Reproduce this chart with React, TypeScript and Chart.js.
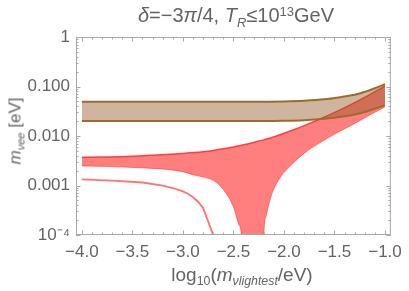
import React, { useEffect, useRef } from 'react';
import { Chart, registerables } from 'chart.js';

Chart.register(...registerables);

// ---- data ----
const brownX = [-4, -3.5, -3, -2.5, -2, -1.8, -1.6, -1.4, -1.3, -1.2, -1.1, -1];
const brownUpper = [0.049, 0.049, 0.049, 0.0492, 0.05, 0.0515, 0.055, 0.063, 0.068, 0.078, 0.092, 0.111];
const brownLower = [0.0201, 0.0201, 0.0201, 0.0201, 0.0204, 0.0209, 0.0222, 0.025, 0.0272, 0.0305, 0.0355, 0.042];

const redX = [-4, -3.5, -3.0, -2.9, -2.8, -2.7, -2.6, -2.5, -2.445, -2.42, -2.4, -2.3, -2.22, -2.2, -2.17, -2.12, -2.04, -1.91, -1.78, -1.62, -1.46, -1.29, -1.15, -1.0];
const redUpper = [0.0037, 0.00392, 0.00445, 0.00462, 0.00483, 0.00512, 0.0055, 0.006, 0.00633, 0.0065, 0.00664, 0.0074, 0.00815, 0.00835, 0.0087, 0.00935, 0.0106, 0.0132, 0.0168, 0.0231, 0.0326, 0.0485, 0.0687, 0.1017];
const redLower = [0.00248, 0.00232, 0.0019, 0.00164, 0.00148, 0.00127, 0.00083, 0.00037, 0.00016, 0.00009, 0.000001, 0.000001, 0.000001, 0.00009, 0.00027, 0.00067, 0.00142, 0.0028, 0.0048, 0.0078, 0.012, 0.0183, 0.0266, 0.0385];

const thinX = [-4, -3.7, -3.4, -3.2, -3.1, -3.0, -2.95, -2.9, -2.85, -2.8, -2.7, -2.68];
const thinY = [0.00133, 0.00126, 0.00115, 0.00099, 0.00089, 0.00076, 0.00068, 0.00058, 0.00047, 0.00035, 0.0001, 0.000078];

const xTicks = [-4, -3.5, -3, -2.5, -2, -1.5, -1];
const yTicks = [1e-4, 1e-3, 1e-2, 1e-1, 1];
const yTickLabels = ['10⁻⁴', '0.001', '0.010', '0.100', '1'];

const pts = (xs: number[], ys: number[]) => xs.map((x, i) => ({ x, y: ys[i] }));

const BROWN = '#9c6b30';
const BROWN_FILL = 'rgba(150,90,40,0.45)';
const RED_FILL = 'rgba(255,0,0,0.5)';
const FRAME = '#a8a8a8';
const TEXT = '#646464';
const FONT = "'Liberation Sans', Arial, sans-serif";

const framePlugin = {
  id: 'frameTicks',
  afterDraw(chart: any) {
    const { ctx, chartArea } = chart;
    const { left, right, top, bottom } = chartArea;
    const xs = chart.scales.x;
    const ys = chart.scales.y;
    ctx.save();
    ctx.strokeStyle = FRAME;
    ctx.lineWidth = 1;
    ctx.strokeRect(left + 0.5, top + 0.5, right - left - 1, bottom - top - 1);
    ctx.beginPath();
    for (let k = 0; k <= 30; k++) {
      const v = -4 + k * 0.1;
      const major = k % 5 === 0;
      const len = major ? 4.5 : 2.5;
      const px = Math.round(xs.getPixelForValue(v)) + 0.5;
      ctx.moveTo(px, bottom);
      ctx.lineTo(px, bottom - len);
      ctx.moveTo(px, top);
      ctx.lineTo(px, top + len);
    }
    for (let d = -4; d <= 0; d++) {
      for (let m = 1; m <= 9; m++) {
        if (d === 0 && m > 1) break;
        const v = m * Math.pow(10, d);
        const len = m === 1 ? 4.5 : 2.5;
        const py = Math.round(ys.getPixelForValue(v)) + 0.5;
        ctx.moveTo(left, py);
        ctx.lineTo(left + len, py);
        ctx.moveTo(right, py);
        ctx.lineTo(right - len, py);
      }
    }
    ctx.stroke();
    ctx.restore();
  },
};

export default function App() {
  const canvasRef = useRef<HTMLCanvasElement | null>(null);

  useEffect(() => {
    document.body.style.margin = '0';
    const canvas = canvasRef.current;
    if (!canvas) return;
    const chart = new Chart(canvas, {
      type: 'line',
      data: {
        datasets: [
          { data: pts(brownX, brownUpper), borderColor: BROWN, borderWidth: 2, fill: false, pointRadius: 0, cubicInterpolationMode: 'monotone' },
          { data: pts(brownX, brownLower), borderColor: BROWN, borderWidth: 2, fill: false, pointRadius: 0, cubicInterpolationMode: 'monotone' },
          { data: pts(brownX, brownUpper), borderWidth: 0, borderColor: 'rgba(0,0,0,0)', backgroundColor: BROWN_FILL, fill: '+1', pointRadius: 0, cubicInterpolationMode: 'monotone' },
          { data: pts(brownX, brownLower), borderWidth: 0, borderColor: 'rgba(0,0,0,0)', fill: false, pointRadius: 0, cubicInterpolationMode: 'monotone' },
          { data: pts(redX, redUpper), borderColor: 'rgba(255,50,50,0.9)', borderWidth: 1.5, backgroundColor: RED_FILL, fill: '+1', pointRadius: 0, cubicInterpolationMode: 'monotone' },
          { data: pts(redX, redLower), borderColor: 'rgba(255,70,70,0.55)', borderWidth: 1, fill: false, pointRadius: 0, cubicInterpolationMode: 'monotone' },
          { data: pts(thinX, thinY), borderColor: 'rgba(255,100,100,0.9)', borderWidth: 1.8, fill: false, pointRadius: 0, tension: 0 },
        ] as any,
      },
      options: {
        animation: false,
        responsive: false,
        events: [],
        layout: { padding: { top: 37, right: 13, left: 0, bottom: 0 } },
        plugins: { legend: { display: false }, tooltip: { enabled: false }, title: { display: false } },
        scales: {
          x: {
            type: 'linear',
            min: -4.058,
            max: -0.942,
            grid: { display: false, drawTicks: false },
            border: { display: false },
            afterBuildTicks: (s: any) => { s.ticks = xTicks.map((v) => ({ value: v })); },
            afterFit: (s: any) => { s.height = 56; },
            ticks: {
              padding: 7,
              maxRotation: 0,
              autoSkip: false,
              color: TEXT,
              font: { family: FONT, size: 17 },
              callback: (v: any) => Number(v).toFixed(1).replace('-', '−'),
            },
          },
          y: {
            type: 'logarithmic',
            min: 1e-4,
            max: 1,
            grid: { display: false, drawTicks: false },
            border: { display: false },
            afterBuildTicks: (s: any) => { s.ticks = yTicks.map((v) => ({ value: v })); },
            afterFit: (s: any) => { s.width = 76; },
            ticks: {
              padding: 6,
              autoSkip: false,
              color: TEXT,
              font: { family: FONT, size: 17 },
              callback: (v: any) => {
                const i = yTicks.findIndex((t) => Math.abs(Math.log10(t) - Math.log10(Number(v))) < 1e-6);
                return i >= 0 ? yTickLabels[i] : '';
              },
            },
          },
        },
      } as any,
      plugins: [framePlugin],
    });
    return () => chart.destroy();
  }, []);

  const sub = (t: string, italic = false) => (
    <span style={{ fontSize: '0.65em', position: 'relative', top: '0.35em', fontStyle: italic ? 'italic' : 'normal' }}>{t}</span>
  );
  const sup = (t: string) => (
    <span style={{ fontSize: '0.65em', position: 'relative', top: '-0.5em' }}>{t}</span>
  );

  return (
    <div style={{ position: 'fixed', left: 0, top: 0, width: 409, height: 291, background: '#fff', fontFamily: FONT, color: TEXT }}>
      <canvas ref={canvasRef} width={409} height={291} style={{ position: 'absolute', left: 0, top: 0, width: 409, height: 291 }} />
      <div style={{ position: 'absolute', left: 76, width: 320, top: 3, textAlign: 'center', fontSize: 20, lineHeight: '24px', whiteSpace: 'nowrap' }}>
        <i>δ</i>=−3<i>π</i>/4, <i>T</i>{sub('R', true)}≤10{sup('13')}GeV
      </div>
      <div style={{ position: 'absolute', left: 82, width: 320, top: 263, textAlign: 'center', fontSize: 19, lineHeight: '24px', whiteSpace: 'nowrap' }}>
        log{sub('10')}(<i>m</i>{sub('νlightest', true)}/eV)
      </div>
      <div style={{ position: 'absolute', left: 16, top: 131, width: 0, height: 0 }}>
        <div style={{ position: 'absolute', left: 0, top: 0, transform: 'translate(-50%,-50%) rotate(-90deg)', fontSize: 17, lineHeight: '22px', whiteSpace: 'nowrap' }}>
          <i>m</i>{sub('νee', true)} [eV]
        </div>
      </div>
    </div>
  );
}
